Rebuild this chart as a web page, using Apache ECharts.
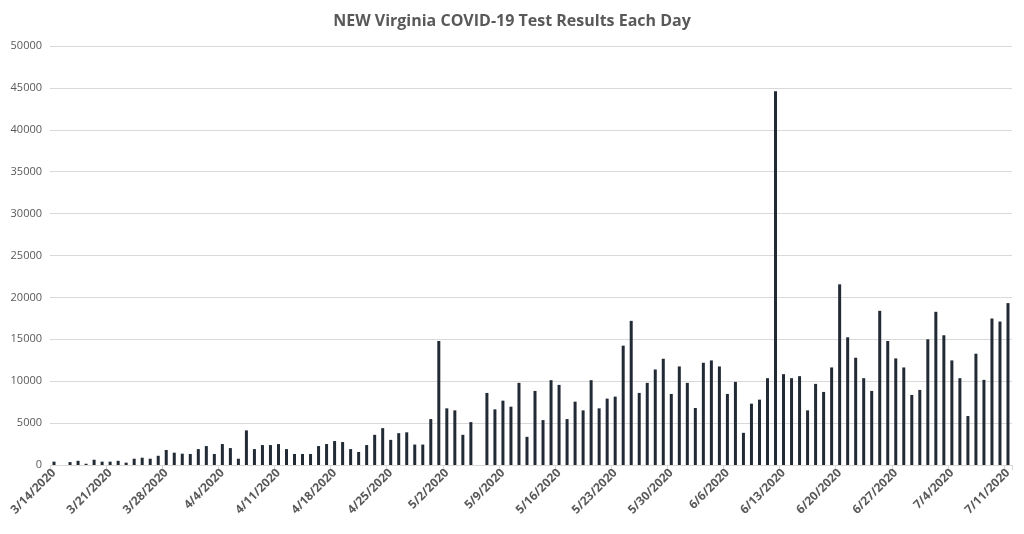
<!DOCTYPE html>
<html><head><meta charset="utf-8">
<script src="https://cdn.jsdelivr.net/npm/echarts@6/dist/echarts.min.js"></script>
<style>html,body{margin:0;padding:0;background:#fff}#c{width:1024px;height:534px}</style>
</head><body><div id="c"></div>
<script>
const march = [400,0,350,500,150,630,400,400,500,280,750,870,750,1100,1790,1470,1350,1310];
const april = [1900,2260,1310,2500,2020,750,4130,1900,2380,2380,2500,1900,1310,1310,1310,2260,2500,2860,2740,1900,1550,2380,3600,4400,3000,3800,3900,2440,2440,5480];
const may = [14800,6760,6520,3600,5120,0,8600,6640,7680,6960,9800,3360,8840,5360,10120,9560,5480,7560,6520,10120,6760,7920,8160,14240,17200,8600,9800,11400,12680,8480,11760];
const june = [9800,6800,12200,12480,11760,8480,9920,3840,7320,7800,10360,44600,10840,10360,10600,6520,9680,8720,11640,21560,15240,12800,10360,8840,18400,14800,12720,11640,8360,8960];
const july = [15000,18280,15480,12480,10360,5840,13280,10160,17480,17120,19320];
const values = march.concat(april, may, june, july);
const categories = [];
const months = [[3,14,31],[4,1,30],[5,1,31],[6,1,30],[7,1,11]];
months.forEach(([m,s,e]) => { for (let d = s; d <= e; d++) categories.push(m + '/' + d + '/2020'); });
const chart = echarts.init(document.getElementById('c'));
chart.setOption({
  animation: false,
  title: { text: 'NEW Virginia COVID-19 Test Results Each Day', left: 'center', top: 8,
    textStyle: { fontFamily: 'Open Sans', fontSize: 16, fontWeight: 'bold', color: '#595959' } },
  grid: { left: 50, right: 12, top: 46, bottom: 69 },
  xAxis: { type: 'category', data: categories,
    axisLine: { lineStyle: { color: '#d9d9d9' } },
    axisTick: { show: true, interval: 6, lineStyle: { color: '#d9d9d9' } },
    axisLabel: { interval: 6, rotate: 45, color: '#595959', fontFamily: 'Open Sans', fontSize: 12, fontWeight: 'bold', margin: 6 } },
  yAxis: { type: 'value', min: 0, max: 50000, interval: 5000,
    axisLine: { show: false }, axisTick: { show: false },
    splitLine: { lineStyle: { color: '#d9d9d9' } },
    axisLabel: { color: '#595959', fontFamily: 'Open Sans', fontSize: 11, formatter: v => String(v) } },
  series: [{ type: 'bar', data: values, barWidth: 3, itemStyle: { color: '#222a35' } }]
});
</script></body></html>
